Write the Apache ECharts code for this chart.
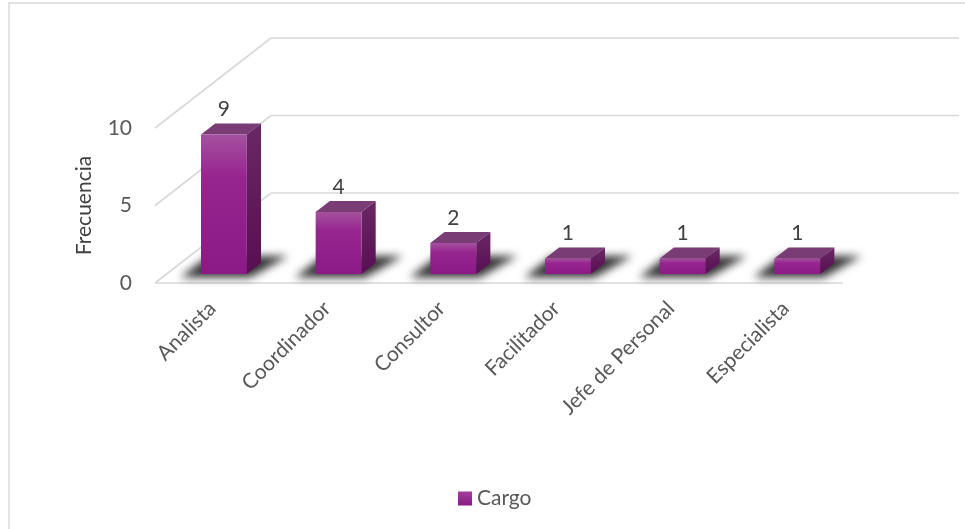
<!DOCTYPE html>
<html>
<head>
<meta charset="utf-8">
<script src="https://cdn.jsdelivr.net/npm/echarts@6/dist/echarts.min.js"></script>
<style>
  html, body { margin: 0; padding: 0; background: #fff; }
  #chart { width: 965px; height: 529px; }
</style>
</head>
<body>
<div id="chart"></div>
<script>
// Data
const categories = ['Analista', 'Coordinador', 'Consultor', 'Facilitador', 'Jefe de Personal', 'Especialista'];
const frecuencia = [9, 4, 2, 1, 1, 1];
const yTicks = [0, 5, 10];
const seriesName = 'Cargo';
const axisName = 'Frecuencia';

// 3D projection of the plot box (pixel offset of the back plane)
const DEPTH_X = 116;
const DEPTH_Y = -90;
// Bar depth position as fraction of the box depth, bar width as fraction of a category band
const BAR_D0 = 0.1;
const BAR_D1 = 0.222;
const BAR_W = 0.4;
const GRID_COLOR = '#D9D9D9';
const TEXT_COLOR = '#595959';
const FONT = 'Lato';

const chart = echarts.init(document.getElementById('chart'), null, { renderer: 'canvas' });

function renderWalls(params, api) {
  const v = api.value(1);
  const band = api.size([1, 0])[0];
  const p = api.coord([0, v]);
  const last = api.coord([categories.length - 1, v]);
  const x0 = p[0] - band / 2;
  const x1 = last[0] + band / 2;
  const y = p[1];
  const lineStyle = { stroke: GRID_COLOR, lineWidth: 1.6, fill: null };
  const children = [
    { type: 'line', shape: { x1: x0, y1: y, x2: x0 + DEPTH_X, y2: y + DEPTH_Y }, style: lineStyle },
    { type: 'line', shape: { x1: x0 + DEPTH_X, y1: y + DEPTH_Y, x2: x1 + DEPTH_X, y2: y + DEPTH_Y }, style: lineStyle }
  ];
  if (v === 0) {
    children.push({ type: 'line', shape: { x1: x0, y1: y, x2: x1, y2: y }, style: lineStyle });
  }
  return { type: 'group', children: children };
}

function renderBar(params, api) {
  const idx = api.value(0);
  const val = api.value(1);
  const band = api.size([1, 0])[0];
  const base = api.coord([idx, 0]);
  const top = api.coord([idx, val]);
  const w = band * BAR_W;
  const fx = base[0] - w / 2 + BAR_D0 * DEPTH_X;   // front-left x
  const fyB = base[1] + BAR_D0 * DEPTH_Y;           // front bottom y
  const fyT = top[1] + BAR_D0 * DEPTH_Y;            // front top y
  const ddx = (BAR_D1 - BAR_D0) * DEPTH_X;
  const ddy = (BAR_D1 - BAR_D0) * DEPTH_Y;

  // floor shadow, drawn through an offset canvas shadow so only the blurred part shows
  const OFF = 3000;
  const sd0 = 0.06, sd1 = 0.3;
  const sx0 = base[0] - w / 2 - 16;
  const sx1 = base[0] + w / 2 + 8;
  const sy = base[1];
  const shadowPts = [
    [sx0 + sd0 * DEPTH_X - OFF, sy + sd0 * DEPTH_Y],
    [sx1 + sd0 * DEPTH_X - OFF, sy + sd0 * DEPTH_Y],
    [sx1 + sd1 * DEPTH_X + 10 - OFF, sy + sd1 * DEPTH_Y],
    [sx0 + sd1 * DEPTH_X - OFF, sy + sd1 * DEPTH_Y]
  ];

  const frontFill = new echarts.graphic.LinearGradient(0, 0, 0, 1, [
    { offset: 0, color: '#A4519F' },
    { offset: 0.3, color: '#97258F' },
    { offset: 1, color: '#8B1A87' }
  ]);
  const sideFill = new echarts.graphic.LinearGradient(0, 0, 0, 1, [
    { offset: 0, color: '#6A2765' },
    { offset: 1, color: '#570F51' }
  ]);

  return {
    type: 'group',
    children: [
      {
        type: 'polygon',
        shape: { points: shadowPts },
        style: { fill: '#000', shadowColor: 'rgba(0,0,0,0.8)', shadowBlur: 9, shadowOffsetX: OFF, shadowOffsetY: 0 }
      },
      {
        type: 'polygon',
        shape: { points: [[fx, fyT], [fx + w, fyT], [fx + w + ddx, fyT + ddy], [fx + ddx, fyT + ddy]] },
        style: { fill: '#7A3C75' }
      },
      {
        type: 'polygon',
        shape: { points: [[fx + w, fyT], [fx + w + ddx, fyT + ddy], [fx + w + ddx, fyB + ddy], [fx + w, fyB]] },
        style: { fill: sideFill }
      },
      {
        type: 'rect',
        shape: { x: fx, y: fyT, width: w, height: fyB - fyT },
        style: { fill: frontFill }
      },
      {
        type: 'text',
        style: {
          text: String(val),
          x: fx + w / 2,
          y: fyT + ddy - 14,
          align: 'center',
          verticalAlign: 'middle',
          fill: '#404040',
          font: '21px ' + FONT
        }
      }
    ]
  };
}

const option = {
  animation: false,
  backgroundColor: '#ffffff',
  textStyle: { fontFamily: FONT },
  graphic: [
    {
      type: 'rect',
      silent: true,
      z: -10,
      shape: { x: 9, y: 3, width: 1000, height: 600 },
      style: { fill: null, stroke: GRID_COLOR, lineWidth: 1.5 }
    }
  ],
  grid: { left: 155, top: 128, width: 688, height: 155, containLabel: false },
  legend: {
    data: [seriesName],
    left: 453,
    top: 483,
    icon: 'rect',
    itemWidth: 14,
    itemHeight: 14,
    itemGap: 6,
    textStyle: { fontSize: 21, color: TEXT_COLOR, fontFamily: FONT }
  },
  xAxis: {
    type: 'category',
    data: categories,
    axisLine: { show: false },
    axisTick: { show: false },
    splitLine: { show: false },
    axisLabel: {
      interval: 0,
      rotate: 45,
      margin: 22,
      fontSize: 21,
      color: TEXT_COLOR,
      fontFamily: FONT
    }
  },
  yAxis: {
    type: 'value',
    min: 0,
    max: 10,
    interval: 5,
    name: axisName,
    nameLocation: 'middle',
    nameGap: 60,
    nameTextStyle: { fontSize: 21, color: '#404040', fontFamily: FONT },
    axisLine: { show: false },
    axisTick: { show: false },
    splitLine: { show: false },
    axisLabel: { margin: 23, fontSize: 21, color: TEXT_COLOR, fontFamily: FONT }
  },
  series: [
    {
      name: '_walls',
      type: 'custom',
      silent: true,
      z: 1,
      renderItem: renderWalls,
      encode: { x: 0, y: 1 },
      data: yTicks.map(function (t) { return [0, t]; })
    },
    {
      name: seriesName,
      type: 'custom',
      z: 2,
      renderItem: renderBar,
      encode: { x: 0, y: 1 },
      itemStyle: {
        color: new echarts.graphic.LinearGradient(0, 0, 0, 1, [
          { offset: 0, color: '#A23F9C' },
          { offset: 1, color: '#8B1A87' }
        ])
      },
      data: frecuencia.map(function (v, i) { return [i, v]; })
    }
  ]
};

chart.setOption(option);
</script>
</body>
</html>
